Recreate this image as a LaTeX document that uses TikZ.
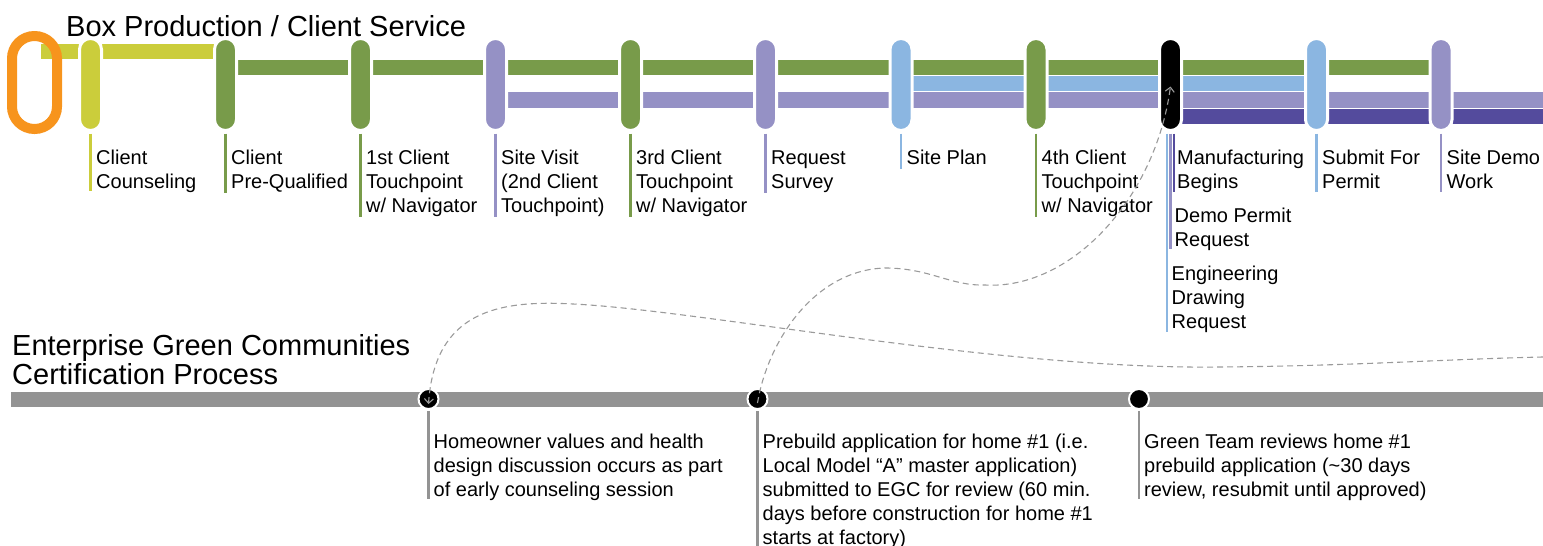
\documentclass[tikz,border=0pt]{standalone}
\usepackage{fontspec}
\setmainfont{Liberation Sans}
\usetikzlibrary{arrows.meta}
\definecolor{cyel}{HTML}{CBCD3B}
\definecolor{cgrn}{HTML}{789B4A}
\definecolor{cpur}{HTML}{9591C5}
\definecolor{cblu}{HTML}{8BB6E1}
\definecolor{cdpu}{HTML}{544B9D}
\definecolor{corg}{HTML}{F7941D}
\definecolor{cbar}{HTML}{939393}
\definecolor{cdash}{HTML}{9A9A9A}
\newcommand{\mylines}[1]{\begin{tabular}[t]{@{}l@{}}#1\end{tabular}}
\begin{document}
\begin{tikzpicture}[x=1pt,y=-1pt,
  pill/.style={rectangle, rounded corners=10.9pt, minimum width=22pt, minimum height=92pt, inner sep=0pt, draw=white, line width=3pt},
  band/.style={draw=white, line width=0.6pt},
  lab/.style={anchor=base west, inner sep=0pt, font=\fontsize{20}{24}\selectfont},
  tick/.style={line width=2.5pt},
  ttl/.style={anchor=base west, inner sep=0pt, font=\fontsize{29}{29}\selectfont},
  dot/.style={circle, fill=black, draw=white, line width=2pt, minimum size=20pt, inner sep=0pt},
  link/.style={draw=cdash, line width=1.1pt, dash pattern=on 6pt off 4pt},
  tip/.style={-{Straight Barb[length=4.5pt,width=9pt]}}
]
\useasboundingbox (0,0) rectangle (1543,546);

% titles
\node[ttl] (t1) at (66,36) {Box Production / Client Service};
\node[ttl, font=\fontsize{29}{28.5}\selectfont] (t2) at (12,355) {\mylines{Enterprise Green Communities\\Certification Process}};

% bands
\fill[cyel, band] (40,43) rectangle (225,59);
\fill[cgrn, band] (225,59) rectangle (1441,75);
\fill[cblu, band] (901,75) rectangle (1316,91.5);
\fill[cpur, band] (495,91.5) rectangle (1543,108);
\fill[cdpu, band] (1170,108) rectangle (1543,124.5);

% start capsule
\node[draw=corg, line width=10pt, rounded corners=22.4pt, minimum width=45pt, minimum height=93pt, inner sep=0pt] (st) at (34.5,82.5) {};

% pills
\node[pill, fill=cyel] (p1) at (90.5,84.5) {};
\node[pill, fill=cgrn] (p2) at (225.5,84.5) {};
\node[pill, fill=cgrn] (p3) at (360.5,84.5) {};
\node[pill, fill=cpur] (p4) at (495.5,84.5) {};
\node[pill, fill=cgrn] (p5) at (630.5,84.5) {};
\node[pill, fill=cpur] (p6) at (765.5,84.5) {};
\node[pill, fill=cblu] (p7) at (901,84.5) {};
\node[pill, fill=cgrn] (p8) at (1036,84.5) {};
\node[pill, fill=black] (p9) at (1170.5,84.5) {};
\node[pill, fill=cblu] (p10) at (1316.5,84.5) {};
\node[pill, fill=cpur] (p11) at (1441,84.5) {};

% ticks under pills
\draw[tick, cyel] (p1.south) ++(0,1.5) -- ++(0,57.5);
\draw[tick, cgrn] (p2.south) ++(0,1.5) -- ++(0,59);
\draw[tick, cgrn] (p3.south) ++(0,1.5) -- ++(0,83);
\draw[tick, cpur] (p4.south) ++(0,1.5) -- ++(0,83);
\draw[tick, cgrn] (p5.south) ++(0,1.5) -- ++(0,83);
\draw[tick, cpur] (p6.south) ++(0,1.5) -- ++(0,59);
\draw[tick, cblu] (p7.south) ++(0,1.5) -- ++(0,35);
\draw[tick, cgrn] (p8.south) ++(0,1.5) -- ++(0,83);
\draw[tick, cblu] ([xshift=-3.5pt]p9.south) ++(0,1.5) -- ++(0,198);
\draw[tick, cpur] (p9.south) ++(0,1.5) -- ++(0,115);
\draw[tick, cdpu] ([xshift=3.5pt]p9.south) ++(0,1.5) -- ++(0,58);
\draw[tick, cblu] (p10.south) ++(0,1.5) -- ++(0,58);
\draw[tick, cpur] (p11.south) ++(0,1.5) -- ++(0,58);

% labels
\node[lab] (l1) at (96,164) {\mylines{Client\\Counseling}};
\node[lab] (l2) at (231,164) {\mylines{Client\\Pre-Qualified}};
\node[lab] (l3) at (366,164) {\mylines{1st Client\\Touchpoint\\w/ Navigator}};
\node[lab] (l4) at (501,164) {\mylines{Site Visit\\(2nd Client\\Touchpoint)}};
\node[lab] (l5) at (636,164) {\mylines{3rd Client\\Touchpoint\\w/ Navigator}};
\node[lab] (l6) at (771,164) {\mylines{Request\\Survey}};
\node[lab] (l7) at (906.5,164) {Site Plan};
\node[lab] (l8) at (1041.5,164) {\mylines{4th Client\\Touchpoint\\w/ Navigator}};
\node[lab] (l9a) at (1177,164) {\mylines{Manufacturing\\Begins}};
\node[lab] (l9b) at (1174.5,222) {\mylines{Demo Permit\\Request}};
\node[lab] (l9c) at (1171.5,280.5) {\mylines{Engineering\\Drawing\\Request}};
\node[lab] (l10) at (1322,164) {\mylines{Submit For\\Permit}};
\node[lab] (l11) at (1446.5,164) {\mylines{Site Demo\\Work}};

% bottom bar
\fill[cbar, band] (10,391) rectangle (1543,407);
\node[dot] (c1) at (428.5,399) {};
\node[dot] (c2) at (757.5,399) {};
\node[dot] (c3) at (1139,399) {};
\draw[tick, cbar] (c1.south) ++(0,1) -- ++(0,88);
\draw[tick, cbar] (c2.south) ++(0,1) -- ++(0,140);
\draw[tick, cbar] (c3.south) ++(0,1) -- ++(0,88);
\node[lab] (b1) at (433.5,448) {\mylines{Homeowner values and health\\design discussion occurs as part\\of early counseling session}};
\node[lab] (b2) at (762.5,448) {\mylines{Prebuild application for home \#1 (i.e.\\Local Model “A” master application)\\submitted to EGC for review (60 min.\\days before construction for home \#1\\starts at factory)}};
\node[lab] (b3) at (1144,448) {\mylines{Green Team reviews home \#1\\prebuild application (\textasciitilde30 days\\review, resubmit until approved)}};

% dashed links
\coordinate (eA) at (1543,357);
\draw[link, tip] (eA) .. controls (1450,359) and (1350,366) .. (1220,367)
  .. controls (1000,370) and (700,310) .. (573,304)
  .. controls (500,300) and (435,310) .. ([yshift=-5pt]c1.center);
\draw[link, tip] ([yshift=-4pt]c2.center) .. controls (768,340) and (815,270) .. (885,268)
  .. controls (930,268) and (950,286) .. (985,285)
  .. controls (1070,290) and (1155,200) .. ([yshift=-2pt]p9.center);
\end{tikzpicture}
\end{document}
